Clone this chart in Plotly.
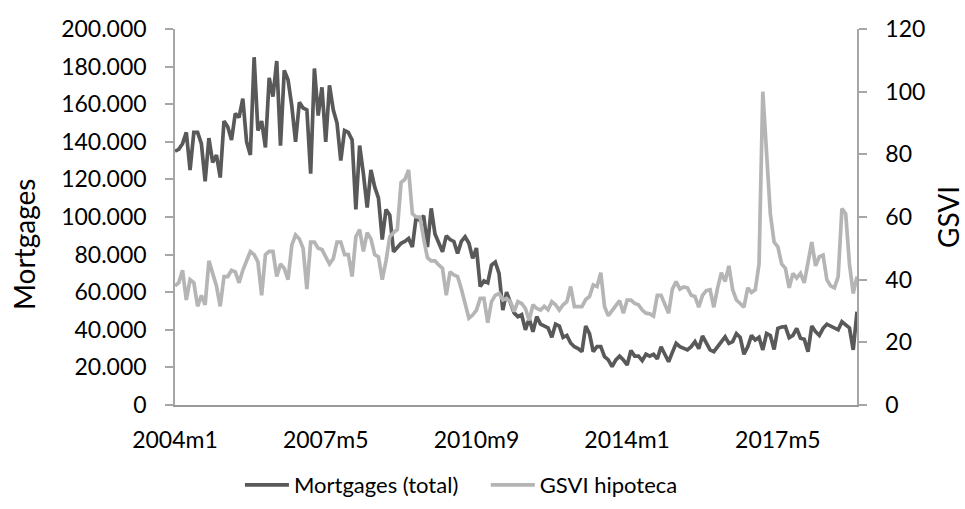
import plotly.graph_objects as go

# Monthly categories 2004m1 .. 2019m2
start_year = 2004
n_months = 182
months = [f"{start_year + i // 12}m{i % 12 + 1}" for i in range(n_months)]
tick_labels = ["2004m1", "2007m5", "2010m9", "2014m1", "2017m5"]

# Mortgages (total), in thousands
mortgages_k = [
    135, 136, 139, 145, 125, 145, 145, 139, 119, 142,
    129, 133, 121, 151, 148, 141, 155, 153, 163, 140,
    133, 185, 146, 151, 137, 174, 164, 183, 138, 178,
    173, 159, 140, 161, 158, 157, 123, 179, 154, 169,
    140, 170, 157, 150, 130, 146, 145, 141, 104, 138,
    123, 105, 125, 116, 110, 88, 104, 101, 81.5, 84,
    86, 87, 88.6, 84, 100, 98, 100.7, 84, 104.6, 91,
    86, 81.5, 90, 88, 87, 80.6, 87, 89.5, 86, 78,
    83.5, 63, 66, 65, 74.5, 76, 70, 50.5, 60, 54,
    49, 47, 48, 40, 46, 39, 47, 43, 42, 41,
    36, 43, 42, 36, 37, 33, 31, 30, 28.4, 42,
    38, 28.4, 31, 31, 25.7, 24, 20.4, 24, 26, 24,
    21.3, 29, 26, 26, 23.6, 27, 26, 27, 24.5, 31,
    27, 23, 28, 32.8, 31, 30, 29.3, 31, 33.7, 30,
    36.7, 33, 29.3, 28.4, 31, 33, 36.3, 32.8, 33.7, 38,
    36, 27, 31, 37, 34.6, 36, 29.3, 38, 37, 29.5,
    40.8, 41.5, 41.7, 35.8, 37, 40.8, 35.5, 35, 28.4, 42,
    39, 37, 40.8, 43, 42, 40.8, 40, 44.3, 42.5, 41,
    29.3, 49.6,
]

# GSVI hipoteca (index)
gsvi = [
    38, 39, 43, 33.5, 40, 39, 31.5, 35, 32, 46,
    42, 38, 31.5, 41, 41, 43, 42.5, 39, 43, 46,
    49, 48, 45.7, 35, 48, 49, 49, 41, 45, 43.6,
    40, 51, 54.3, 53, 50, 37, 52, 52, 50, 49.6,
    47.4, 45, 46.7, 52, 52, 48, 48, 41, 53.7, 56,
    49, 55, 53, 48, 47.3, 40, 46, 53.7, 55, 56,
    71, 72, 75, 61, 60, 60, 53, 47, 46, 46,
    44.7, 43.6, 35, 42.5, 41.5, 41, 37, 32.4, 27.7, 28.7,
    30.3, 34, 34, 26.3, 33, 35, 35.6, 33.5, 34, 33,
    29.8, 33, 32.4, 30.8, 27, 32, 30.8, 30.3, 31.5, 30.4,
    33, 32, 30.3, 32, 33, 37.8, 31.4, 31.4, 31.4, 33.7,
    34.6, 38.3, 37.8, 42.2, 31.4, 28.5, 30, 31.5, 33.3, 29.3,
    33.5, 33.5, 32.4, 32, 30.3, 29.3, 29.1, 28.4, 35, 35,
    32.4, 29.3, 37, 39.4, 37, 37.7, 37.4, 35, 34.6, 31.2,
    35, 36.5, 36.8, 31.2, 37.4, 42.2, 39.4, 44.4, 36.8, 33.5,
    32.4, 31.2, 37.4, 35.9, 36.8, 45, 100, 80, 61, 52,
    50.5, 45, 43.6, 37.4, 42, 40.5, 42, 39, 46, 52,
    44.4, 47.3, 47.8, 40, 38, 37.4, 41, 62.7, 61, 45,
    35.6, 41,
]

assert len(mortgages_k) == n_months, len(mortgages_k)
assert len(gsvi) == n_months, len(gsvi)

FONT = "Lato"
DARK = "#595959"
LIGHT = "#b5b5b5"
AXIS = "#a6a6a6"
NB = "\u00a0"

fig = go.Figure()
fig.add_trace(go.Scatter(
    x=months, y=[v * 1000 for v in mortgages_k], mode="lines",
    name="Mortgages (total)" + NB * 4, line=dict(color=DARK, width=3.7),
    yaxis="y",
))
fig.add_trace(go.Scatter(
    x=months, y=gsvi, mode="lines",
    name="GSVI hipoteca", line=dict(color=LIGHT, width=3.7),
    yaxis="y2",
))

fig.update_layout(
    width=965, height=509,
    margin=dict(l=175, r=108, t=29, b=104, autoexpand=False),
    paper_bgcolor="white", plot_bgcolor="white",
    separators=",.",
    font=dict(family=FONT, size=23, color="black"),
    showlegend=True,
    legend=dict(
        orientation="h", x=0.42, y=-0.213, xanchor="center", yanchor="middle",
        font=dict(family=FONT, size=22, color="black"),
        itemwidth=44, tracegroupgap=0,
    ),
    xaxis=dict(
        type="category", range=[0, n_months - 1],
        tickmode="array", tickvals=tick_labels, ticktext=tick_labels,
        showline=True, linecolor="#999999", linewidth=1.5,
        showgrid=False, zeroline=False, ticks="",
        ticklabelstandoff=14,
        tickfont=dict(family=FONT, size=23, color="black"),
    ),
    yaxis=dict(
        range=[0, 200000], dtick=20000, tickformat=",d",
        showline=True, linecolor=AXIS, linewidth=1.5,
        ticks="outside", ticklen=8, tickcolor=AXIS, tickwidth=1.5,
        showgrid=False, zeroline=False,
        ticklabelstandoff=14,
        tickfont=dict(family=FONT, size=23, color="black"),
    ),
    yaxis2=dict(
        range=[0, 120], dtick=20, overlaying="y", side="right", anchor="x",
        showline=True, linecolor=AXIS, linewidth=1.5,
        ticks="outside", ticklen=8, tickcolor=AXIS, tickwidth=1.5,
        showgrid=False, zeroline=False,
        ticklabelstandoff=14,
        tickfont=dict(family=FONT, size=23, color="black"),
        title=dict(text="GSVI", font=dict(family=FONT, size=28, color="black"), standoff=34),
    ),
    annotations=[dict(
        text="Mortgages", textangle=-90, showarrow=False,
        xref="paper", yref="paper", x=-0.2214, y=0.4255,
        xanchor="center", yanchor="middle",
        font=dict(family=FONT, size=28, color="black"),
    )],
)

# Remove the default 8px page margin so the figure fills the 965x509 window exactly.
fig.write_html(
    "out.html",
    config={"displayModeBar": False},
    post_script="document.body.style.margin='0';document.body.style.overflow='hidden';",
)
